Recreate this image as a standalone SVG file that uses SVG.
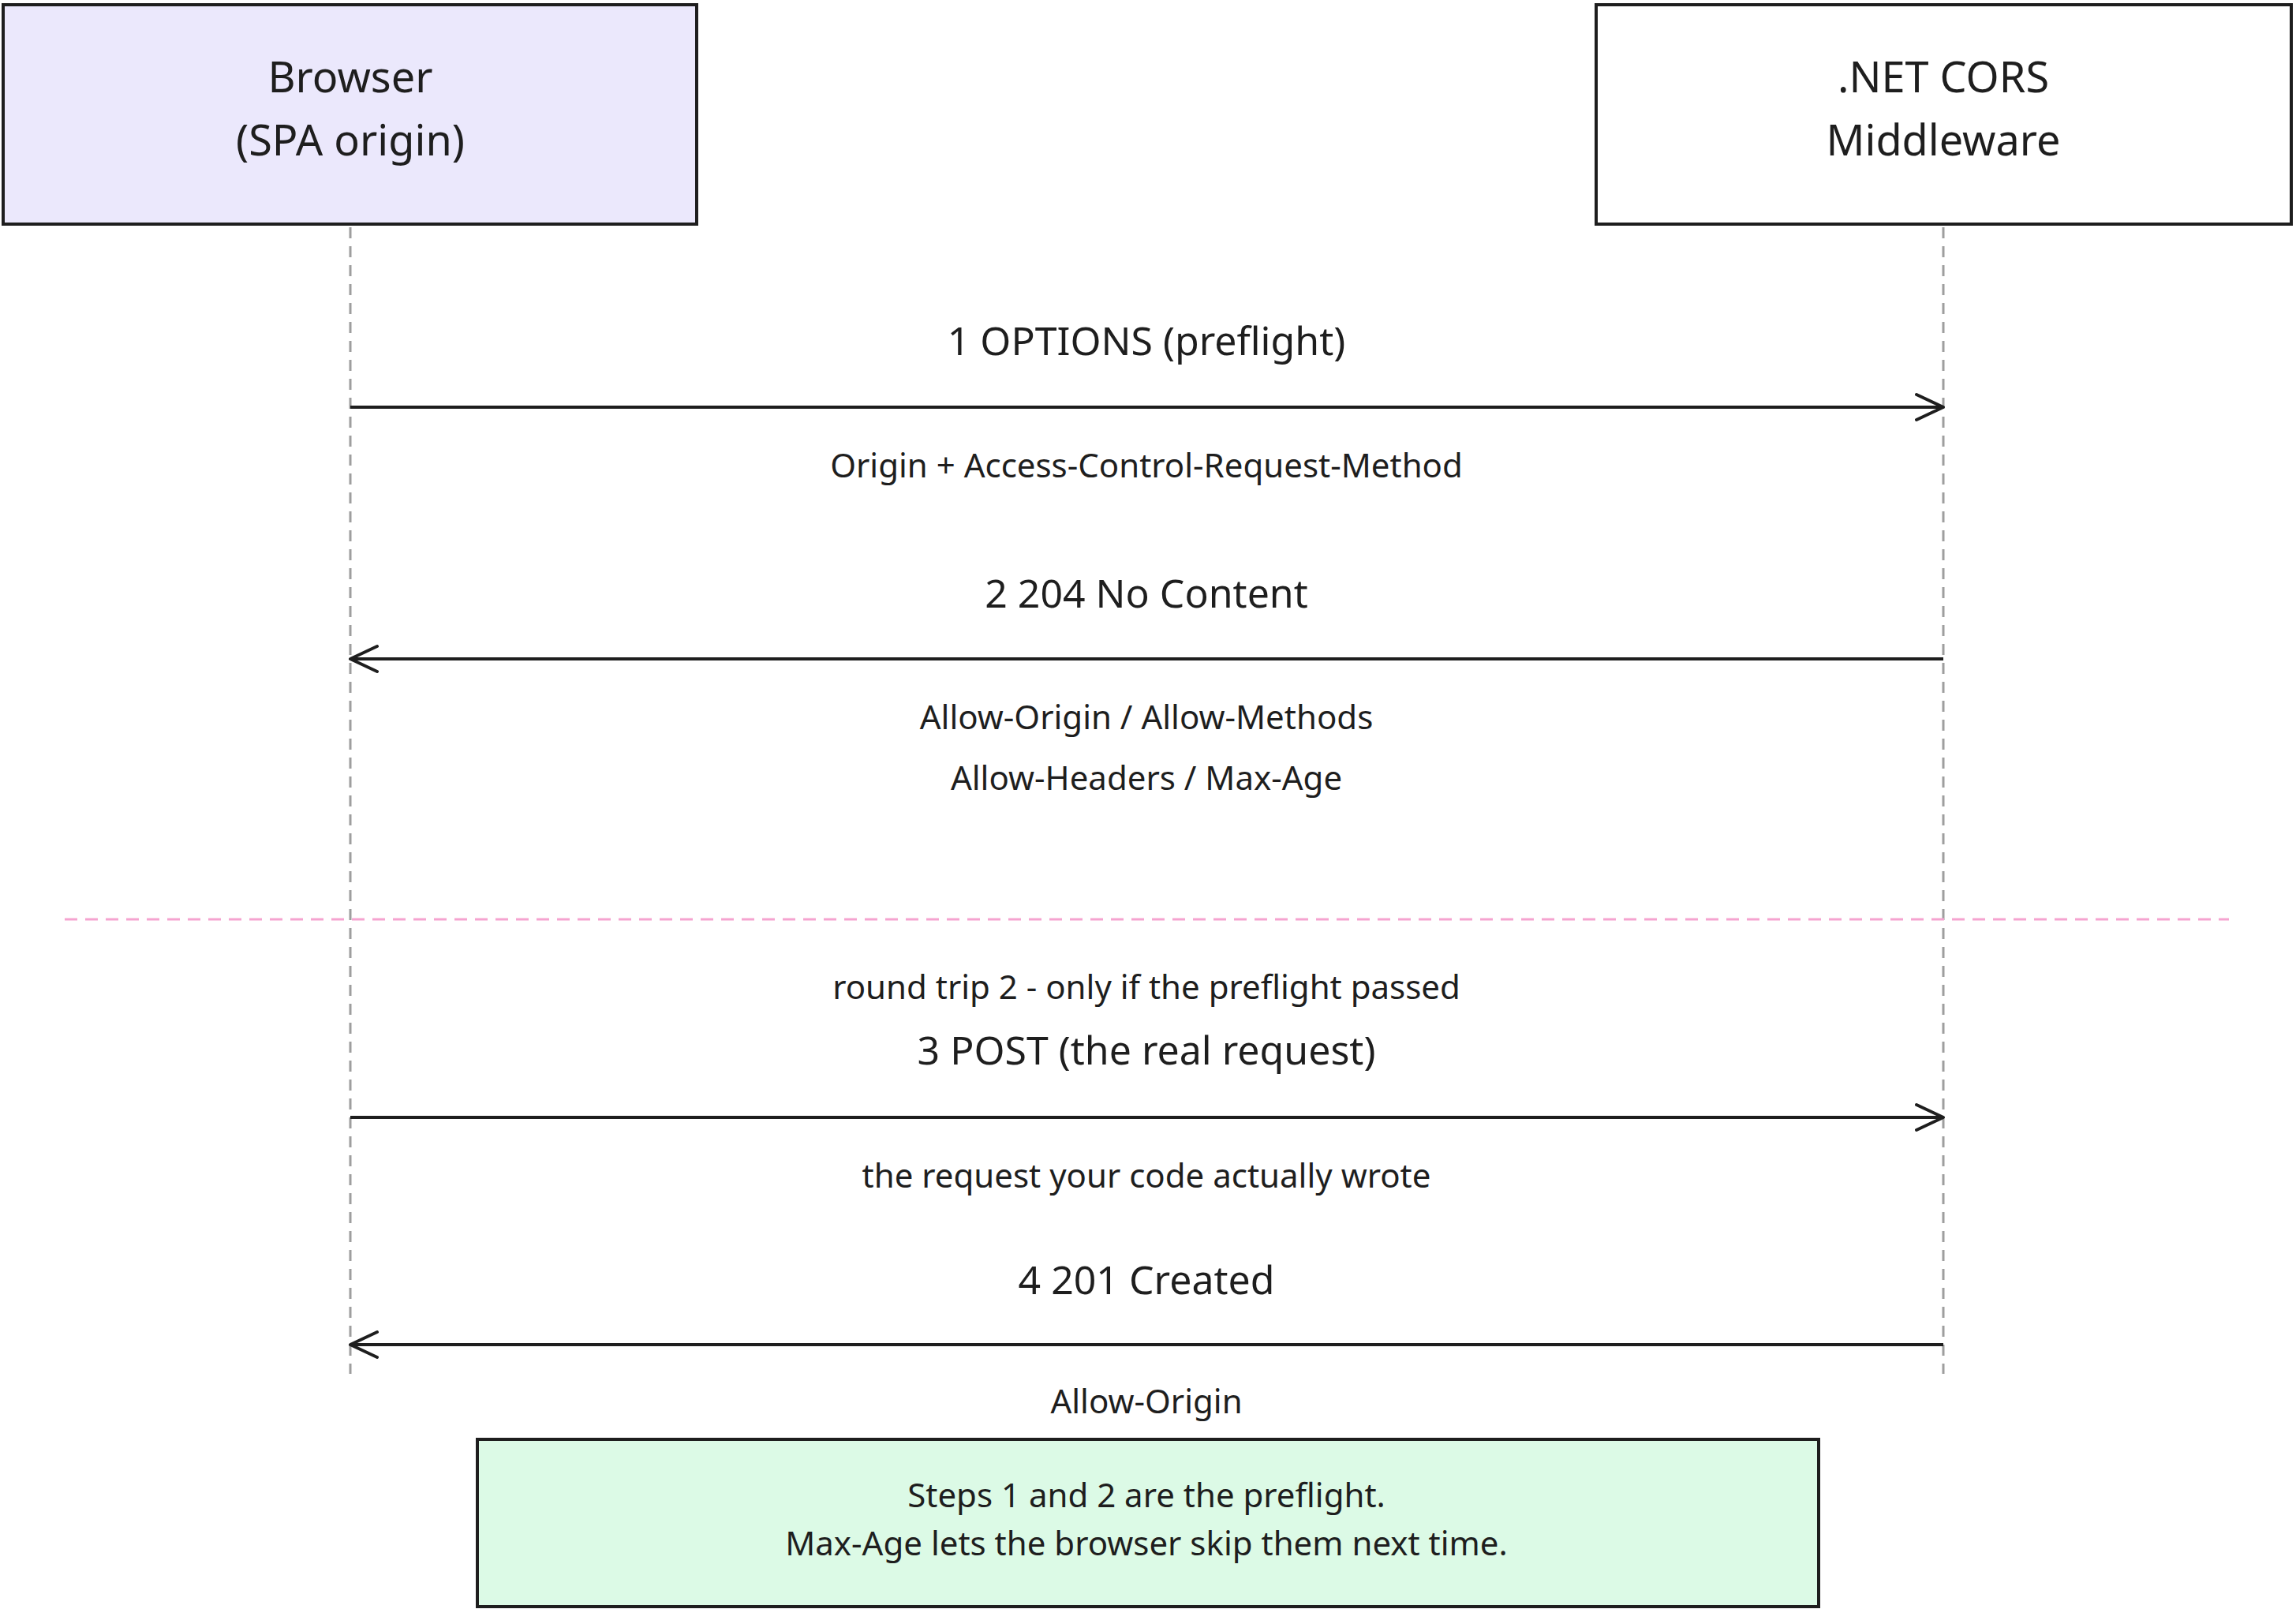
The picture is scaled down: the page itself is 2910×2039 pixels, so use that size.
<svg xmlns="http://www.w3.org/2000/svg" width="2910" height="2039" viewBox="0 0 2910 2039">
<style>
text{font-family:"Noto Sans","Liberation Sans",sans-serif;fill:#1e1e1e;text-anchor:middle}
.big{font-size:54px}
.lbl{font-size:50px}
.sm{font-size:42px}
.box{stroke:#1e1e1e;stroke-width:4}
.life{stroke:#9e9e9e;stroke-width:3;stroke-dasharray:14 10;fill:none}
.msg{stroke:#1e1e1e;stroke-width:4;fill:none}
</style>
<defs>
<marker id="ah" markerWidth="40" markerHeight="40" refX="36" refY="20" orient="auto" markerUnits="userSpaceOnUse" viewBox="0 0 40 40">
<path d="M2,4 L36,20 L2,36" fill="none" stroke="#1e1e1e" stroke-width="4" stroke-linecap="round" stroke-linejoin="round"/>
</marker>
</defs>
<rect width="2910" height="2039" fill="#ffffff"/>
<g id="browser">
<rect class="box" x="4" y="6" width="879" height="278" fill="#ebe8fc"/>
<text class="big" x="444" y="117">Browser</text>
<text class="big" x="444" y="197">(SPA origin)</text>
</g>
<g id="cors">
<rect class="box" x="2023" y="6" width="881" height="278" fill="#ffffff"/>
<text class="big" x="2463" y="117">.NET CORS</text>
<text class="big" x="2463" y="197">Middleware</text>
</g>
<g id="lifelines">
<line class="life" x1="444" y1="288" x2="444" y2="1741"/>
<line class="life" x1="2463" y1="288" x2="2463" y2="1741"/>
</g>
<g id="separator">
<line x1="82" y1="1165" x2="2825" y2="1165" stroke="#f5a3d0" stroke-width="3" stroke-dasharray="16 10"/>
</g>
<g id="connectors">
<line class="msg" x1="444" y1="516" x2="2463" y2="516" marker-end="url(#ah)"/>
<line class="msg" x1="2463" y1="835" x2="444" y2="835" marker-end="url(#ah)"/>
<line class="msg" x1="444" y1="1416" x2="2463" y2="1416" marker-end="url(#ah)"/>
<line class="msg" x1="2463" y1="1704" x2="444" y2="1704" marker-end="url(#ah)"/>
</g>
<g id="labels">
<text class="lbl" x="1453" y="450">1 OPTIONS (preflight)</text>
<text class="sm" x="1453" y="605">Origin + Access-Control-Request-Method</text>
<text class="lbl" x="1453" y="770">2 204 No Content</text>
<text class="sm" x="1453" y="924">Allow-Origin / Allow-Methods</text>
<text class="sm" x="1453" y="1001">Allow-Headers / Max-Age</text>
<text class="sm" x="1453" y="1266">round trip 2 - only if the preflight passed</text>
<text class="lbl" x="1453" y="1349">3 POST (the real request)</text>
<text class="sm" x="1453" y="1505">the request your code actually wrote</text>
<text class="lbl" x="1453" y="1640">4 201 Created</text>
<text class="sm" x="1453" y="1791">Allow-Origin</text>
</g>
<g id="note">
<rect class="box" x="605" y="1824" width="1700" height="212" fill="#dcfae6"/>
<text class="sm" x="1453" y="1910">Steps 1 and 2 are the preflight.</text>
<text class="sm" x="1453" y="1971">Max-Age lets the browser skip them next time.</text>
</g>
</svg>
